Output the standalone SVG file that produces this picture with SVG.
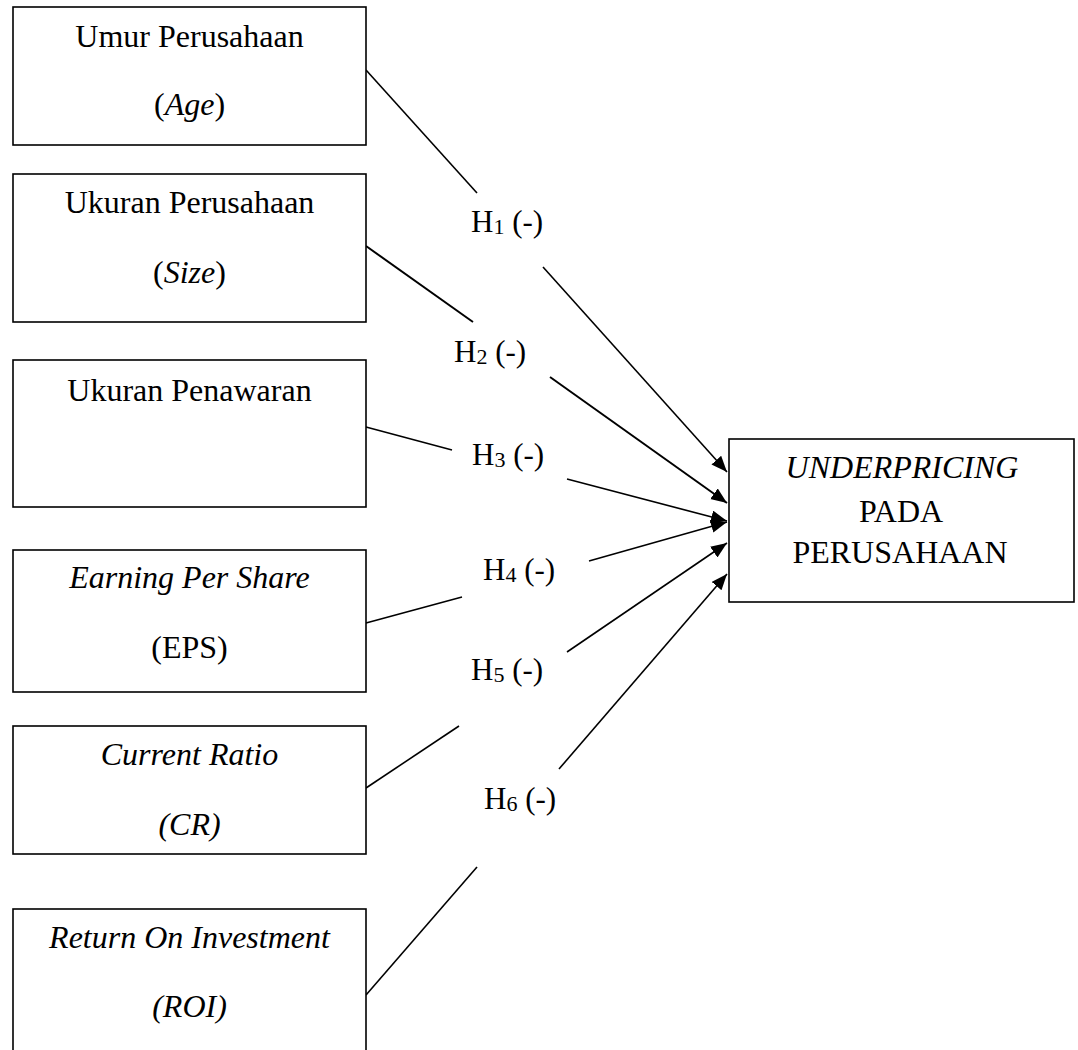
<svg xmlns="http://www.w3.org/2000/svg" width="1078" height="1050" viewBox="0 0 1078 1050">
<style>
.box{fill:#fff;stroke:#000;stroke-width:1.6}
.t{font-family:"Liberation Serif","Times New Roman",serif;font-size:32px;fill:#000;text-anchor:middle}
.i{font-style:italic}
.h{font-family:"Liberation Serif","Times New Roman",serif;font-size:31px;fill:#000}
.sub{font-size:22px}
.ln{stroke:#000;stroke-width:1.6;fill:none}
</style>
<defs>
<marker id="arr" markerUnits="userSpaceOnUse" markerWidth="18" markerHeight="14" refX="16" refY="6.5" orient="auto">
<path d="M0,0 L16,6.5 L0,13 z" fill="#000"/>
</marker>
</defs>
<rect width="1078" height="1050" fill="#fff"/>
<g id="connectors">
<line class="ln" x1="366" y1="70" x2="477" y2="193"/>
<line class="ln" x1="543" y1="267" x2="727" y2="472" marker-end="url(#arr)"/>
<line class="ln" x1="366" y1="246" x2="473" y2="322" style="stroke-width:2"/>
<line class="ln" x1="550" y1="377" x2="727" y2="503" marker-end="url(#arr)" style="stroke-width:2"/>
<line class="ln" x1="366" y1="427" x2="452" y2="450"/>
<line class="ln" x1="567" y1="479" x2="727" y2="521" marker-end="url(#arr)"/>
<line class="ln" x1="366" y1="623" x2="462" y2="597"/>
<line class="ln" x1="589" y1="561" x2="727" y2="522" marker-end="url(#arr)"/>
<line class="ln" x1="366" y1="788" x2="459" y2="726"/>
<line class="ln" x1="567" y1="652" x2="727" y2="543" marker-end="url(#arr)"/>
<line class="ln" x1="366" y1="995" x2="477" y2="867"/>
<line class="ln" x1="559" y1="769" x2="727" y2="574" marker-end="url(#arr)"/>
</g>
<g id="labels">
<text class="h" x="471" y="232">H<tspan class="sub" dy="2">1</tspan><tspan dy="-2"> (-)</tspan></text>
<text class="h" x="454" y="362">H<tspan class="sub" dy="2">2</tspan><tspan dy="-2"> (-)</tspan></text>
<text class="h" x="472" y="465">H<tspan class="sub" dy="2">3</tspan><tspan dy="-2"> (-)</tspan></text>
<text class="h" x="483" y="580">H<tspan class="sub" dy="2">4</tspan><tspan dy="-2"> (-)</tspan></text>
<text class="h" x="471" y="680">H<tspan class="sub" dy="2">5</tspan><tspan dy="-2"> (-)</tspan></text>
<text class="h" x="484" y="809">H<tspan class="sub" dy="2">6</tspan><tspan dy="-2"> (-)</tspan></text>
</g>
<g id="age">
<rect class="box" x="13" y="7" width="353" height="138"/>
<text class="t" x="189.5" y="47">Umur Perusahaan</text>
<text class="t" x="189.5" y="115">(<tspan class="i">Age</tspan>)</text>
</g>
<g id="size">
<rect class="box" x="13" y="174" width="353" height="148"/>
<text class="t" x="189.5" y="213">Ukuran Perusahaan</text>
<text class="t" x="189.5" y="283">(<tspan class="i">Size</tspan>)</text>
</g>
<g id="penawaran">
<rect class="box" x="13" y="360" width="353" height="147"/>
<text class="t" x="189.5" y="401">Ukuran Penawaran</text>
</g>
<g id="eps">
<rect class="box" x="13" y="550" width="353" height="142"/>
<text class="t i" x="189.5" y="588">Earning Per Share</text>
<text class="t" x="189.5" y="658">(EPS)</text>
</g>
<g id="cr">
<rect class="box" x="13" y="726" width="353" height="128"/>
<text class="t i" x="189.5" y="765">Current Ratio</text>
<text class="t i" x="189.5" y="835">(CR)</text>
</g>
<g id="roi">
<rect class="box" x="13" y="909" width="353" height="160"/>
<text class="t i" x="189.5" y="948">Return On Investment</text>
<text class="t i" x="189.5" y="1017">(ROI)</text>
</g>
<g id="underpricing">
<rect class="box" x="729" y="439" width="345" height="163"/>
<text class="t i" x="902" y="478">UNDERPRICING</text>
<text class="t" x="901" y="522">PADA</text>
<text class="t" x="900" y="563">PERUSAHAAN</text>
</g>
</svg>
